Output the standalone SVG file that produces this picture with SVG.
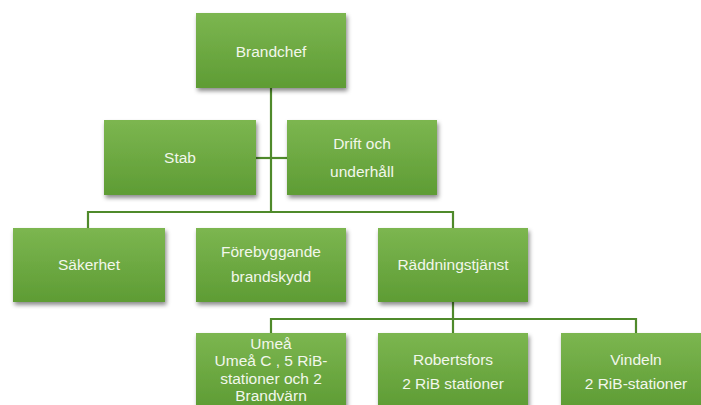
<svg xmlns="http://www.w3.org/2000/svg" width="701" height="405" viewBox="0 0 701 405">
<style>
.box{fill:url(#g);filter:url(#sh)}
.t{font-family:"Liberation Sans",Arial,sans-serif;font-size:15.5px;fill:#f2f7ec;text-anchor:middle}
.c{fill:none;stroke:#4f8a2b;stroke-width:2.2}
</style>
<defs>
<linearGradient id="g" x1="0" y1="0" x2="0" y2="1">
<stop offset="0" stop-color="#7cb650"/>
<stop offset="1" stop-color="#5e9c34"/>
</linearGradient>
<filter id="sh" x="-10%" y="-10%" width="125%" height="130%">
<feDropShadow dx="1.5" dy="3" stdDeviation="2" flood-color="#000" flood-opacity="0.45"/>
</filter>
</defs>
<rect width="701" height="405" fill="#fff"/>
<g id="connectors">
<path class="c" d="M271 88V212"/>
<path class="c" d="M256 158H287"/>
<path class="c" d="M88 228V212H453V228"/>
<path class="c" d="M453 302V319"/>
<path class="c" d="M271 333V319H636V333"/>
<path class="c" d="M453 319V333"/>
</g>
<g id="brandchef"><rect class="box" x="196" y="13" width="150" height="75"/><text class="t" x="271" y="57">Brandchef</text></g>
<g id="stab"><rect class="box" x="104" y="120" width="152" height="75"/><text class="t" x="180" y="163">Stab</text></g>
<g id="drift"><rect class="box" x="287" y="120" width="150" height="75"/><text class="t" x="362" y="149">Drift och</text><text class="t" x="362" y="177">underhåll</text></g>
<g id="sakerhet"><rect class="box" x="13" y="228" width="152" height="74"/><text class="t" x="89" y="270">Säkerhet</text></g>
<g id="forebyggande"><rect class="box" x="196" y="228" width="150" height="74"/><text class="t" x="271" y="257">Förebyggande</text><text class="t" x="271" y="282">brandskydd</text></g>
<g id="raddningstjanst"><rect class="box" x="378" y="228" width="150" height="74"/><text class="t" x="453" y="270">Räddningstjänst</text></g>
<g id="umea"><rect class="box" x="196" y="333" width="150" height="75"/><text class="t" x="271" y="349">Umeå</text><text class="t" x="271" y="366">Umeå C , 5 RiB-</text><text class="t" x="271" y="384">stationer och 2</text><text class="t" x="271" y="401">Brandvärn</text></g>
<g id="robertsfors"><rect class="box" x="378" y="333" width="150" height="75"/><text class="t" x="453" y="365">Robertsfors</text><text class="t" x="453" y="389">2 RiB stationer</text></g>
<g id="vindeln"><rect class="box" x="561" y="333" width="150" height="75"/><text class="t" x="636" y="365">Vindeln</text><text class="t" x="636" y="389">2 RiB-stationer</text></g>
</svg>
